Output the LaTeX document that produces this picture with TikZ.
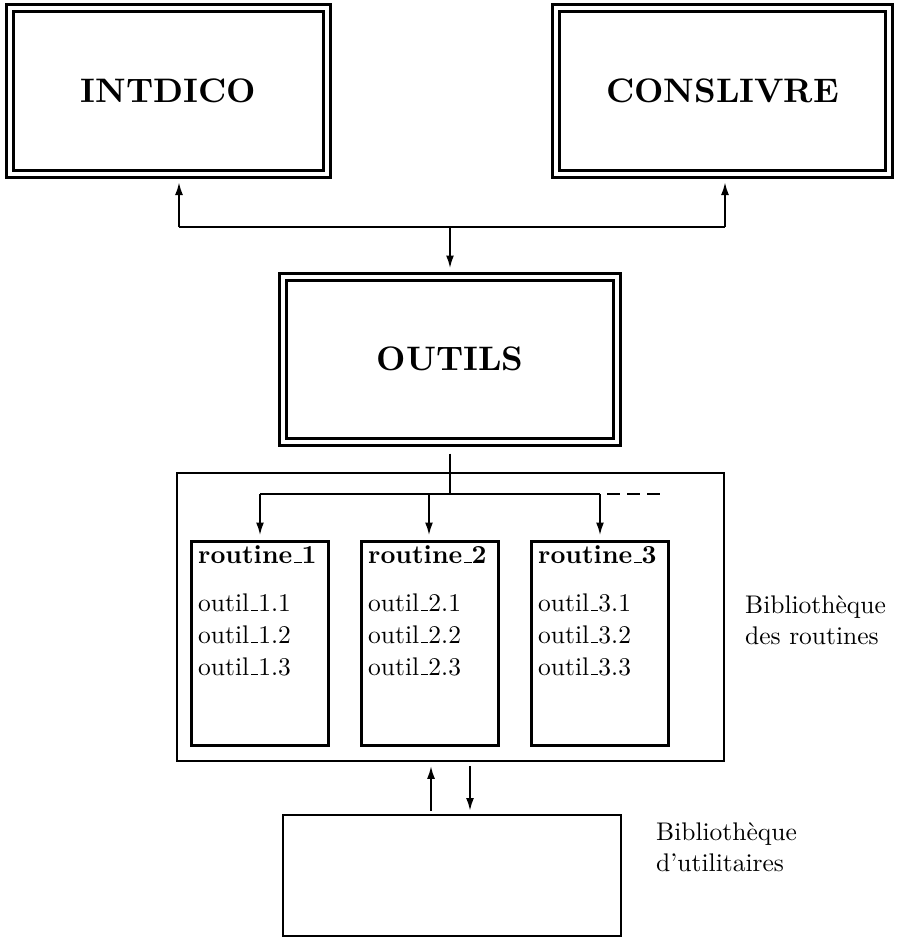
\documentclass[tikz,border=0pt]{standalone}
\usepackage{fontspec}
\setmainfont{lmroman10-regular.otf}[BoldFont=lmroman10-bold.otf]
\usetikzlibrary{arrows.meta}
\newcommand\us{\kern.06em\rule[0pt]{.3em}{1pt}}
\tikzset{
  dbl/.style={draw, line width=3pt, double, double distance=4pt, inner sep=0pt,
    outer sep=5pt, font=\fontsize{34}{40}\selectfont\bfseries},
  routinebox/.style={draw, line width=3pt, inner sep=0pt},
  thinbox/.style={draw, line width=1.6pt, inner sep=0pt},
  txt/.style={inner sep=0pt, anchor=base west, font=\fontsize{25.5}{31}\selectfont},
  ttl/.style={txt, font=\fontsize{26}{31}\selectfont\bfseries},
  arr/.style={line width=2.2pt, -{Latex[length=13pt,width=8pt]}},
  ln/.style={line width=2.2pt},
}
\begin{document}
\begin{tikzpicture}[x=1pt, y=-1pt]
\useasboundingbox (0,0) rectangle (899,939);
% top boxes
\node[dbl, minimum width=317pt, minimum height=166pt] (int) at (168.5,91) {INTDICO};
\node[dbl, minimum width=333pt, minimum height=166pt] (cons) at (722.5,91) {CONSLIVRE};
\node[dbl, minimum width=334pt, minimum height=165pt] (outils) at (450,359) {OUTILS};
% routines library
\node[thinbox, minimum width=547pt, minimum height=288pt] (bib) at (450.5,617) {};
\node[routinebox, minimum width=137pt, minimum height=204pt] (r1) at (260,643) {};
\node[routinebox, minimum width=137pt, minimum height=204pt] (r2) at (430,643) {};
\node[routinebox, minimum width=137pt, minimum height=204pt] (r3) at (600,643) {};
\node[ttl] (t1) at (198,563) {routine\us1};
\node[ttl] (t2) at (368,563) {routine\us2};
\node[ttl] (t3) at (538,563) {routine\us3};
\foreach \c/\x in {1/198,2/368,3/538}{
  \node[txt] (o\c a) at (\x,611) {outil\us\c.1};
  \node[txt] (o\c b) at (\x,643) {outil\us\c.2};
  \node[txt] (o\c c) at (\x,675) {outil\us\c.3};
}
\node[txt] (lb1) at (745,613) {Bibliothèque};
\node[txt] (lb2) at (745,644) {des routines};
% utilities library
\node[draw, line width=2pt, inner sep=0pt, minimum width=338pt, minimum height=121pt] (util) at (452,875.5) {};
\node[txt] (lb3) at (656,840) {Bibliothèque};
\node[txt] (lb4) at (656,871) {d'utilitaires};
% top connectors
\coordinate (jL) at (179,227);
\coordinate (jR) at (725,227);
\coordinate (jM) at (450,227);
\draw[ln] (jL) -- (jR);
\draw[arr, shorten >=3pt] (jL) -- (jL |- int.south);
\draw[arr, shorten >=3pt] (jR) -- (jR |- cons.south);
\draw[arr, shorten >=3pt] (jM) -- (outils.north);
% outils to routines
\coordinate (rM) at (450,494);
\coordinate (h1) at (260,494);
\coordinate (h2) at (429,494);
\coordinate (h3) at (600,494);
\coordinate (dEnd) at (660,494);
\draw[ln] ([yshift=-7pt]outils.south) -- (rM);
\draw[ln] (h1) -- (h3);
\draw[arr, shorten >=4pt] (h1) -- (r1.north);
\draw[arr, shorten >=4pt] (h2) -- (h2 |- r2.north);
\draw[arr, shorten >=4pt] (h3) -- (r3.north);
\draw[ln, dash pattern=on 13pt off 7pt] ([xshift=7pt]h3) -- (dEnd);
% bottom arrows
\coordinate (upx) at (431,0);
\coordinate (dnx) at (470,0);
\draw[arr, shorten <=3pt, shorten >=4pt] (util.north -| upx) -- (bib.south -| upx);
\draw[arr, shorten <=4pt, shorten >=3pt] (bib.south -| dnx) -- (util.north -| dnx);
\end{tikzpicture}
\end{document}
